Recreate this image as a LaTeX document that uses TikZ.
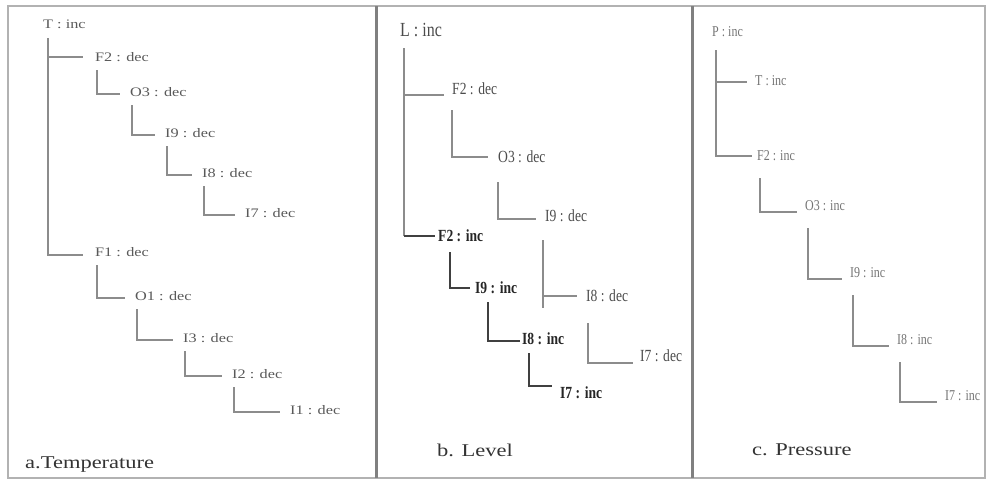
\documentclass[tikz,border=0pt]{standalone}
\usepackage{fontspec}
\setmainfont{Liberation Serif}
\newfontfamily\wideserif[FakeStretch=1.25]{Liberation Serif}
\newfontfamily\slimserif[FakeStretch=0.8]{Liberation Serif}
\usetikzlibrary{positioning}

\begin{document}
\begin{tikzpicture}[
  x=1pt, y=-1pt,
  every node/.style={anchor=west, inner sep=0pt},
  frame/.style={draw=black!30, line width=2pt},
  split/.style={draw=black!50, line width=3pt},
  link/.style={draw=black!45, line width=1.3pt},
  hot/.style={draw=black!75, line width=2.2pt},
  tagA/.style={text=black!65, font=\wideserif\fontsize{13}{15}\selectfont},
  tagB/.style={text=black!70, font=\slimserif\fontsize{17}{19}\selectfont},
  tagBhot/.style={text=black!85, font=\slimserif\bfseries\fontsize{17}{19}\selectfont},
  tagC/.style={text=black!55, font=\slimserif\fontsize{15}{17}\selectfont},
  caption/.style={text=black!80, font=\wideserif\fontsize{18}{20}\selectfont}
]
\useasboundingbox (0,0) rectangle (988,480);

% Panels
\draw[frame] (8,6) rectangle (985,478);
\draw[split] (376,6) -- (376,478);
\draw[split] (692,6) -- (692,478);

% a. Temperature
\node[tagA] (a-t)  at (43,24)   {T : inc};
\node[tagA] (a-f2) at (95,57)   {F2 : dec};
\node[tagA] (a-o3) at (130,92)  {O3 : dec};
\node[tagA] (a-i9) at (165,133) {I9 : dec};
\node[tagA] (a-i8) at (202,173) {I8 : dec};
\node[tagA] (a-i7) at (245,213) {I7 : dec};
\node[tagA] (a-f1) at (95,252)  {F1 : dec};
\node[tagA] (a-o1) at (135,296) {O1 : dec};
\node[tagA] (a-i3) at (183,338) {I3 : dec};
\node[tagA] (a-i2) at (232,374) {I2 : dec};
\node[tagA] (a-i1) at (290,410) {I1 : dec};
\node[caption] (a-cap) at (25,465) {a.Temperature};

\draw[link] ([xshift=5pt,yshift=-14pt]a-t.west) |- ([xshift=-12pt]a-f2.west);
\draw[link] ([xshift=5pt,yshift=-14pt]a-t.west) |- ([xshift=-12pt,yshift=-3pt]a-f1.west);
\foreach \p/\c in {a-f2/a-o3, a-o3/a-i9, a-i9/a-i8, a-i8/a-i7,
                   a-f1/a-o1, a-o1/a-i3, a-i3/a-i2, a-i2/a-i1}
  \draw[link] ([xshift=2pt,yshift=-13pt]\p.west) |- ([xshift=-10pt,yshift=-2pt]\c.west);

% b. Level
\node[tagB, font=\slimserif\fontsize{20}{22}\selectfont] (b-l) at (400,30) {L : inc};
\node[tagB]    (b-f2d) at (452,89)  {F2 : dec};
\node[tagB]    (b-o3d) at (498,157) {O3 : dec};
\node[tagB]    (b-i9d) at (545,216) {I9 : dec};
\node[tagB]    (b-i8d) at (586,296) {I8 : dec};
\node[tagB]    (b-i7d) at (640,356) {I7 : dec};
\node[tagBhot] (b-f2i) at (438,236) {F2 : inc};
\node[tagBhot] (b-i9i) at (475,288) {I9 : inc};
\node[tagBhot] (b-i8i) at (522,339) {I8 : inc};
\node[tagBhot] (b-i7i) at (560,393) {I7 : inc};
\node[caption] (b-cap) at (437,450) {b. Level};

\draw[link] ([xshift=4pt,yshift=-18pt]b-l.west) |- ([xshift=-8pt,yshift=-6pt]b-f2d.west);
\draw[link] ([xshift=4pt,yshift=-18pt]b-l.west) -- ([xshift=4pt]b-l.west |- b-f2i.west);
\draw[hot]  ([xshift=4pt]b-l.west |- b-f2i.west) -- ([xshift=-3pt]b-f2i.west);
\draw[link] ([yshift=-21pt]b-f2d.west) |- ([xshift=-10pt]b-o3d.west);
\draw[link] ([yshift=-25pt]b-o3d.west) |- ([xshift=-9pt,yshift=-3pt]b-i9d.west);
\draw[link] ([xshift=-2pt,yshift=-24pt]b-i9d.west) -- ([xshift=-2pt,yshift=-92pt]b-i9d.west);
\draw[link] ([xshift=-2pt]b-i9d.west |- b-i8d.west) -- ([xshift=-9pt]b-i8d.west);
\draw[link] ([xshift=2pt,yshift=-27pt]b-i8d.west) |- ([xshift=-7pt,yshift=-7pt]b-i7d.west);
\draw[hot]  ([xshift=12pt,yshift=-16pt]b-f2i.west) |- ([xshift=-5pt]b-i9i.west);
\draw[hot]  ([xshift=13pt,yshift=-14pt]b-i9i.west) |- ([xshift=-2pt,yshift=-2pt]b-i8i.west);
\draw[hot]  ([xshift=7pt,yshift=-14pt]b-i8i.west) |- ([xshift=-8pt,yshift=7pt]b-i7i.west);

% c. Pressure
\node[tagC] (c-p)  at (712,32)  {P : inc};
\node[tagC] (c-t)  at (755,81)  {T : inc};
\node[tagC] (c-f2) at (757,156) {F2 : inc};
\node[tagC] (c-o3) at (805,206) {O3 : inc};
\node[tagC] (c-i9) at (850,273) {I9 : inc};
\node[tagC] (c-i8) at (897,340) {I8 : inc};
\node[tagC] (c-i7) at (945,396) {I7 : inc};
\node[caption] (c-cap) at (752,450) {c. Pressure};

\draw[link] ([xshift=4pt,yshift=-18pt]c-p.west) |- ([xshift=-8pt,yshift=-1pt]c-t.west);
\draw[link] ([xshift=4pt,yshift=-18pt]c-p.west) |- ([xshift=-5pt]c-f2.west);
\foreach \p/\c in {c-f2/c-o3, c-o3/c-i9, c-i9/c-i8, c-i8/c-i7}
  \draw[link] ([xshift=3pt,yshift=-22pt]\p.west) |- ([xshift=-8pt,yshift=-6pt]\c.west);

\end{tikzpicture}
\end{document}
